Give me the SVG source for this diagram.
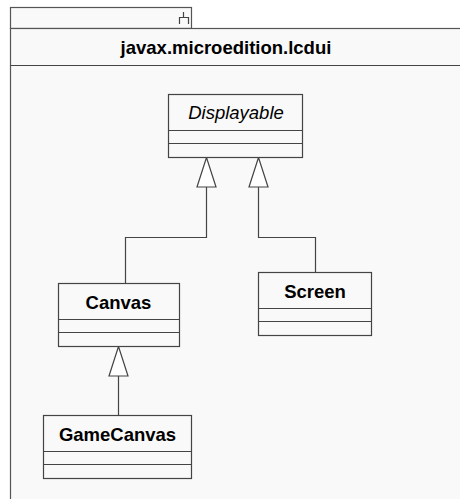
<svg xmlns="http://www.w3.org/2000/svg" width="460" height="499" viewBox="0 0 460 499">
  <defs>
    <style>
      .frame { fill: #f9f9f9; stroke: #555; stroke-width: 1.2; }
      .cls { fill: #f9f9f9; stroke: #444; stroke-width: 1.2; }
      .sep { stroke: #444; stroke-width: 1.2; }
      .edge { fill: none; stroke: #444; stroke-width: 1.2; }
      .head { fill: #fff; stroke: #444; stroke-width: 1.2; }
      .name { font-family: "Liberation Sans", Arial, sans-serif; font-size: 18.5px; font-weight: bold; fill: #000; text-anchor: middle; }
      .abstract { font-family: "Liberation Sans", Arial, sans-serif; font-size: 18.5px; font-style: italic; fill: #000; text-anchor: middle; }
    </style>
  </defs>
  <rect width="460" height="499" fill="#fff"/>

  <!-- package frame -->
  <g id="package">
    <rect class="frame" x="10.5" y="7.5" width="181" height="21" fill="#fbfbfb"/>
    <path class="edge" d="M183.5 12 V17.5 M179.5 24 V17.5 H188.5 V24"/>
    <rect class="frame" x="10.5" y="28.5" width="470" height="490"/>
    <line class="sep" x1="10.5" y1="65.5" x2="470" y2="65.5"/>
    <text class="name" x="226" y="54">javax.microedition.lcdui</text>
  </g>

  <!-- generalization connectors -->
  <g id="connectors">
    <path class="edge" d="M206.5 187 V237.5 H125.5 V283"/>
    <path class="edge" d="M258.5 187 V237.5 H315.5 V272"/>
    <path class="edge" d="M118.5 376 V415"/>
    <polygon class="head" points="206.5,157.5 197,187 216,187"/>
    <polygon class="head" points="258.5,157.5 249,187 268,187"/>
    <polygon class="head" points="118.5,346.5 109,376 128,376"/>
  </g>

  <g id="Displayable">
    <rect class="cls" x="168.5" y="94.5" width="134" height="63"/>
    <line class="sep" x1="168.5" y1="130.5" x2="302.5" y2="130.5"/>
    <line class="sep" x1="168.5" y1="143.5" x2="302.5" y2="143.5"/>
    <text class="abstract" x="236" y="118.5">Displayable</text>
  </g>

  <g id="Canvas">
    <rect class="cls" x="58.5" y="283.5" width="121" height="63"/>
    <line class="sep" x1="58.5" y1="319.5" x2="179.5" y2="319.5"/>
    <line class="sep" x1="58.5" y1="332.5" x2="179.5" y2="332.5"/>
    <text class="name" x="118.5" y="309">Canvas</text>
  </g>

  <g id="Screen">
    <rect class="cls" x="258.5" y="272.5" width="113" height="63"/>
    <line class="sep" x1="258.5" y1="308.5" x2="371.5" y2="308.5"/>
    <line class="sep" x1="258.5" y1="321.5" x2="371.5" y2="321.5"/>
    <text class="name" x="315" y="298">Screen</text>
  </g>

  <g id="GameCanvas">
    <rect class="cls" x="43.5" y="415.5" width="148" height="63"/>
    <line class="sep" x1="43.5" y1="451.5" x2="191.5" y2="451.5"/>
    <line class="sep" x1="43.5" y1="464.5" x2="191.5" y2="464.5"/>
    <text class="name" x="117.5" y="441">GameCanvas</text>
  </g>
</svg>
